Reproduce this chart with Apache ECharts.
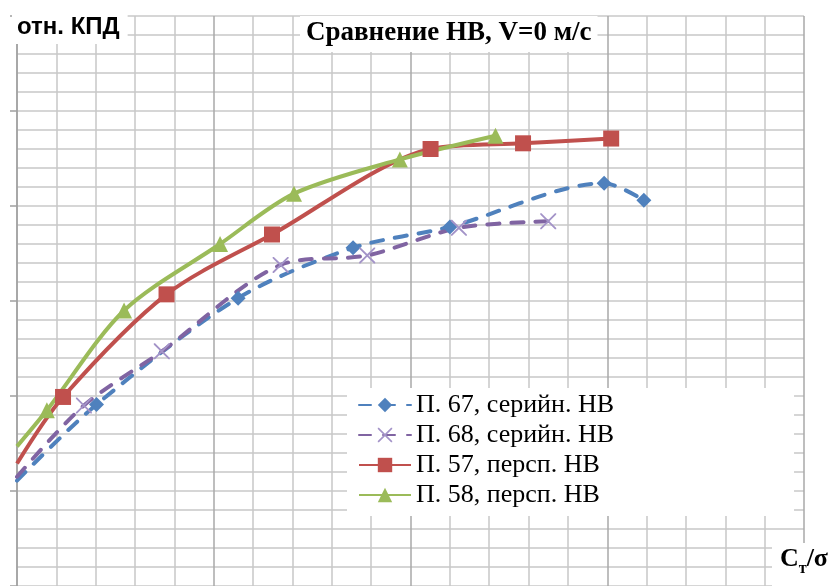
<!DOCTYPE html>
<html>
<head>
<meta charset="utf-8">
<script src="https://cdn.jsdelivr.net/npm/echarts@6/dist/echarts.min.js"></script>
<style>html,body{margin:0;padding:0;background:#fff;}#c{width:835px;height:586px;}</style>
</head>
<body>
<div id="c"></div>
<script>
// Data (axis units: x = Ct/sigma scale 0..20, y = rel. efficiency 40..100; no tick labels shown)
const names = ['П. 67, серийн. НВ', 'П. 68, серийн. НВ', 'П. 57, персп. НВ', 'П. 58, персп. НВ'];
const x67 = [0, 2.02, 5.62, 8.54, 11.00, 14.92, 15.93];
const y67 = [51.1, 59.1, 70.3, 75.6, 77.8, 82.4, 80.6];
const x68 = [0, 1.70, 3.68, 6.70, 8.90, 11.23, 13.50];
const y68 = [51.5, 59.0, 64.7, 73.8, 74.8, 77.7, 78.4];
const x57 = [0, 1.17, 3.80, 6.48, 10.51, 12.86, 15.10];
const y57 = [52.9, 59.9, 70.7, 77.0, 86.0, 86.6, 87.1];
const x58 = [0, 0.76, 2.72, 5.16, 7.04, 9.73, 12.16];
const y58 = [54.7, 58.5, 69.0, 76.0, 81.3, 84.9, 87.4];

function pts(xs, ys) {
  // first point lies on the plot edge (curve continues beyond) -> no marker
  return xs.map((x, i) => i === 0 ? { value: [x, ys[i]], symbol: 'none' } : [x, ys[i]]);
}

const xPath = 'path://M0,0 L1.6,0 L10,8.4 L18.4,0 L20,0 L20,1.6 L11.6,10 L20,18.4 L20,20 L18.4,20 L10,11.6 L1.6,20 L0,20 L0,18.4 L8.4,10 L0,1.6 Z';

const chart = echarts.init(document.getElementById('c'), null, { renderer: 'canvas' });
const minorColor = '#c8c8c8';
chart.setOption({
  animation: false,
  backgroundColor: '#fff',
  grid: { left: 17, top: 16, width: 787, height: 571, containLabel: false },
  xAxis: {
    type: 'value', min: 0, max: 20, interval: 5,
    axisLine: { show: false }, axisTick: { show: false }, axisLabel: { show: false },
    splitLine: { show: true, lineStyle: { color: '#a8a8a8', width: 1.5 } },
    minorTick: { show: false, splitNumber: 5 },
    minorSplitLine: { show: true, lineStyle: { color: minorColor, width: 1.5 } }
  },
  yAxis: {
    type: 'value', min: 40, max: 100, interval: 10,
    axisLine: { show: true, lineStyle: { color: '#a0a0a0', width: 1.5 } },
    axisTick: { show: true, length: 7, lineStyle: { color: '#a0a0a0', width: 1.5 } },
    axisLabel: { show: false },
    splitLine: { show: true, lineStyle: { color: minorColor, width: 1.5 } },
    minorTick: { show: false, splitNumber: 5 },
    minorSplitLine: { show: true, lineStyle: { color: minorColor, width: 1.5 } }
  },
  title: [
    {
      text: 'Сравнение НВ, V=0 м/с', left: 300, top: 16,
      backgroundColor: '#fff', padding: [4, 6, 5, 6],
      textStyle: { fontFamily: 'Liberation Serif', fontWeight: 'bold', fontSize: 27, color: '#000' }
    },
    {
      text: 'отн. КПД', left: 12, top: 10,
      backgroundColor: '#fff', padding: [5, 8, 5, 5],
      textStyle: { fontFamily: 'Liberation Sans', fontWeight: 'bold', fontSize: 24, color: '#000' }
    },
    {
      text: '{c|C}{s|т}{c|/σ}', left: 772, top: 546,
      backgroundColor: '#fff', padding: [3, 10, 10, 8],
      textStyle: {
        rich: {
          c: { fontFamily: 'Liberation Serif', fontWeight: 'bold', fontSize: 26, color: '#000', lineHeight: 28, verticalAlign: 'bottom', padding: [0, 0, 5, 0] },
          s: { fontFamily: 'Liberation Serif', fontWeight: 'bold', fontSize: 16, color: '#000', lineHeight: 16, verticalAlign: 'bottom' }
        }
      }
    }
  ],
  legend: {
    orient: 'vertical', left: 347, top: 388,
    backgroundColor: '#fff', padding: [2, 180, 6, 11],
    itemWidth: 52, itemHeight: 18, itemGap: 0,
    data: names,
    textStyle: { fontFamily: 'Liberation Serif', fontSize: 26, color: '#000', lineHeight: 30 }
  },
  series: [
    {
      name: names[0], type: 'line', smooth: 0.3, data: pts(x67, y67),
      symbol: 'diamond', symbolSize: 15,
      lineStyle: { color: '#4F81BD', width: 4, type: [12, 12], cap: 'round' },
      itemStyle: { color: '#4F81BD' }
    },
    {
      name: names[1], type: 'line', smooth: 0.3, data: pts(x68, y68),
      symbol: xPath, symbolSize: 16,
      lineStyle: { color: '#8064A2', width: 4, type: [12, 12], cap: 'round' },
      itemStyle: { color: '#a393c8' }
    },
    {
      name: names[2], type: 'line', smooth: 0.3, data: pts(x57, y57),
      symbol: 'rect', symbolSize: 16,
      lineStyle: { color: '#C0504D', width: 4 },
      itemStyle: { color: '#C0504D' }
    },
    {
      name: names[3], type: 'line', smooth: 0.3, data: pts(x58, y58),
      symbol: 'triangle', symbolSize: 16,
      lineStyle: { color: '#9BBB59', width: 4 },
      itemStyle: { color: '#9BBB59' }
    }
  ]
});
</script>
</body>
</html>
